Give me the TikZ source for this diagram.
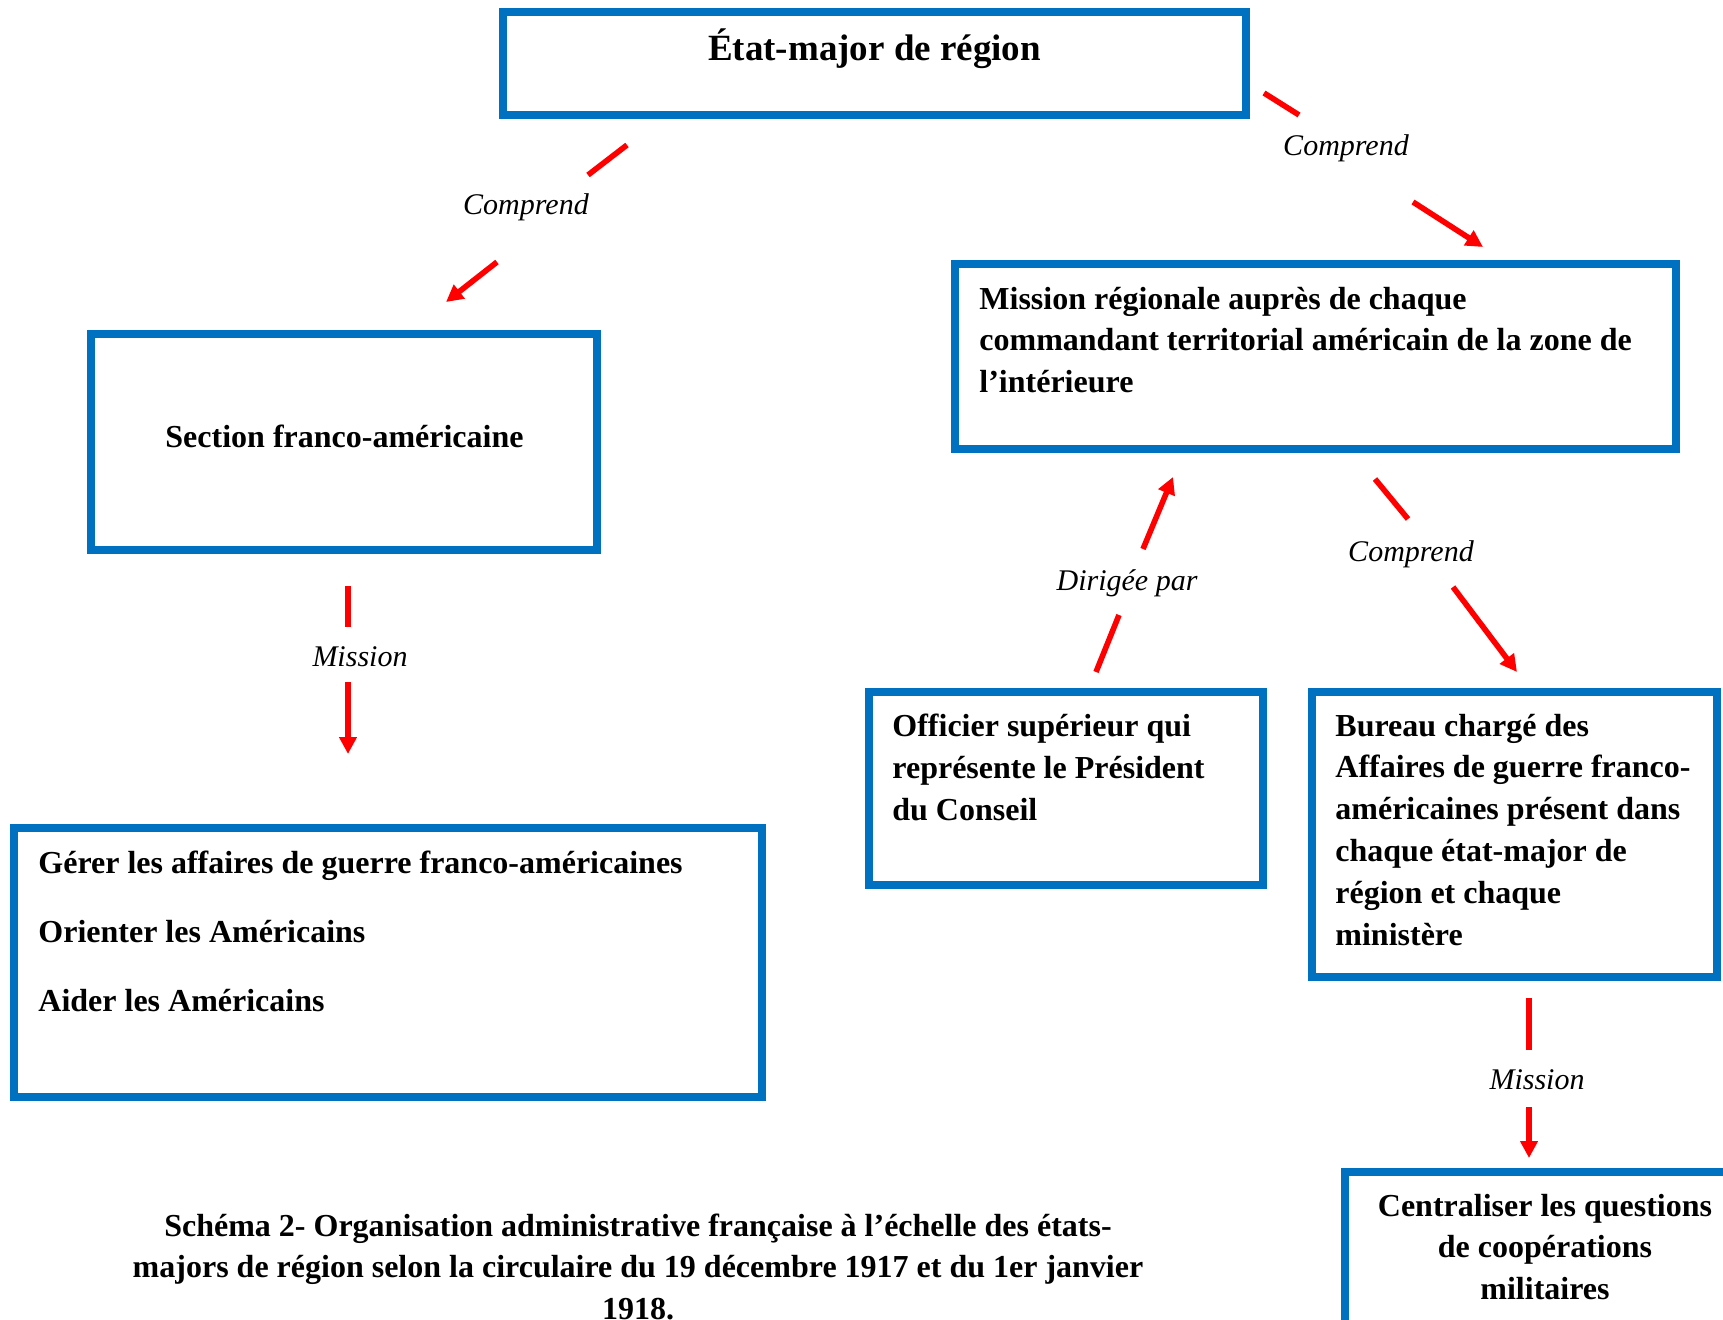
\documentclass[tikz,border=0pt]{standalone}
\usepackage{fontspec}
\setmainfont{Liberation Serif}
\usetikzlibrary{arrows.meta}
\definecolor{boxblue}{HTML}{0070C0}
\definecolor{arrred}{HTML}{FF0000}
\begin{document}
\begin{tikzpicture}[x=0.5pt,y=-0.5pt,
 box/.style={draw=boxblue, line width=4pt, rectangle, inner sep=0pt},
 body/.style={font=\fontsize{16}{20.9}\selectfont\bfseries, inner sep=0pt, align=left},
 bodyc/.style={body, align=center},
 lab/.style={font=\fontsize{15}{17}\selectfont\itshape, inner sep=0pt},
 seg/.style={draw=arrred, line width=2.8pt},
 arr/.style={seg, -{Triangle[width=8.5pt,length=8.5pt]}},
]
\useasboundingbox (0,0) rectangle (1723,1320);
\clip (0,0) rectangle (1723,1320);

% boxes
\node[box, minimum width=371.5pt, minimum height=51.5pt] (top) at (874.5,63.5) {};
\node[font=\fontsize{18.5}{22}\selectfont\bfseries, inner sep=0pt] (topt) at (874.5,49) {État-major de région};

\node[box, minimum width=253pt, minimum height=108pt] (sect) at (344,442) {};
\node[body] (sectt) at (344.5,436) {Section franco-américaine};

\node[box, minimum width=360.5pt, minimum height=92.5pt] (miss) at (1315.5,356.5) {};
\node[body, anchor=north west] (misst) at (979,286.5) {Mission régionale auprès de chaque\\commandant territorial américain de la zone de\\l’intérieure};

\node[box, minimum width=197pt, minimum height=96.5pt] (offi) at (1066,788.5) {};
\node[body, anchor=north west] (offit) at (892,713.5) {Officier supérieur qui\\représente le Président\\du Conseil};

\node[box, minimum width=202.5pt, minimum height=142.5pt] (bur) at (1514.5,834.5) {};
\node[body, anchor=north west] (burt) at (1335,713.5) {Bureau chargé des\\Affaires de guerre franco-\\américaines présent dans\\chaque état-major de\\région et chaque\\ministère};

\node[box, minimum width=374pt, minimum height=134.5pt] (gerer) at (388,962.5) {};
\node[body, anchor=north west] (gerert) at (38,850.5) {Gérer les affaires de guerre franco-américaines\\[13.6pt]Orienter les Américains\\[13.6pt]Aider les Américains};

\node[box, minimum width=227.5pt, minimum height=114pt] (cent) at (1572.5,1286) {};
\node[bodyc, anchor=north] (centt) at (1545,1193.5) {Centraliser les questions\\de coopérations\\militaires};

\node[bodyc, anchor=north, font=\fontsize{16}{20.75}\selectfont\bfseries] (caption) at (638,1213.5) {Schéma 2- Organisation administrative française à l’échelle des états-\\majors de région selon la circulaire du 19 décembre 1917 et du 1er janvier\\1918.};

% connector coordinates
\coordinate (a1s) at (627,145); \coordinate (a1m) at (588,175);
\coordinate (a1n) at (497,262); \coordinate (a1e) at (446,302);
\coordinate (a2s) at (1264,93); \coordinate (a2m) at (1299,115);
\coordinate (a2n) at (1413,202); \coordinate (a2e) at (1483,247);
\coordinate (a3s) at (1096,672); \coordinate (a3m) at (1119,615);
\coordinate (a3n) at (1143,549); \coordinate (a3e) at (1173,477);
\coordinate (a4s) at (1375,479); \coordinate (a4m) at (1408,519);
\coordinate (a4n) at (1453,587); \coordinate (a4e) at (1517,672);
\coordinate (a5s) at (348,586); \coordinate (a5m) at (348,627);
\coordinate (a5n) at (348,682); \coordinate (a5e) at (348,754);
\coordinate (a6s) at (1529,998); \coordinate (a6m) at (1529,1050);
\coordinate (a6n) at (1529,1107); \coordinate (a6e) at (1529,1158);

% connectors
\draw[seg] (a1s) -- (a1m); \draw[arr] (a1n) -- (a1e);
\draw[seg] (a2s) -- (a2m); \draw[arr] (a2n) -- (a2e);
\draw[seg] (a3s) -- (a3m); \draw[arr] (a3n) -- (a3e);
\draw[seg] (a4s) -- (a4m); \draw[arr] (a4n) -- (a4e);
\draw[seg] (a5s) -- (a5m); \draw[arr] (a5n) -- (a5e);
\draw[seg] (a6s) -- (a6m); \draw[arr] (a6n) -- (a6e);

% labels
\node[lab] (l1) at (526,207) {Comprend};
\node[lab] (l2) at (1346,148) {Comprend};
\node[lab] (l3) at (1127,583) {Dirigée par};
\node[lab] (l4) at (1411,554) {Comprend};
\node[lab] (l5) at (360,657) {Mission};
\node[lab] (l6) at (1537,1080) {Mission};
\end{tikzpicture}
\end{document}
